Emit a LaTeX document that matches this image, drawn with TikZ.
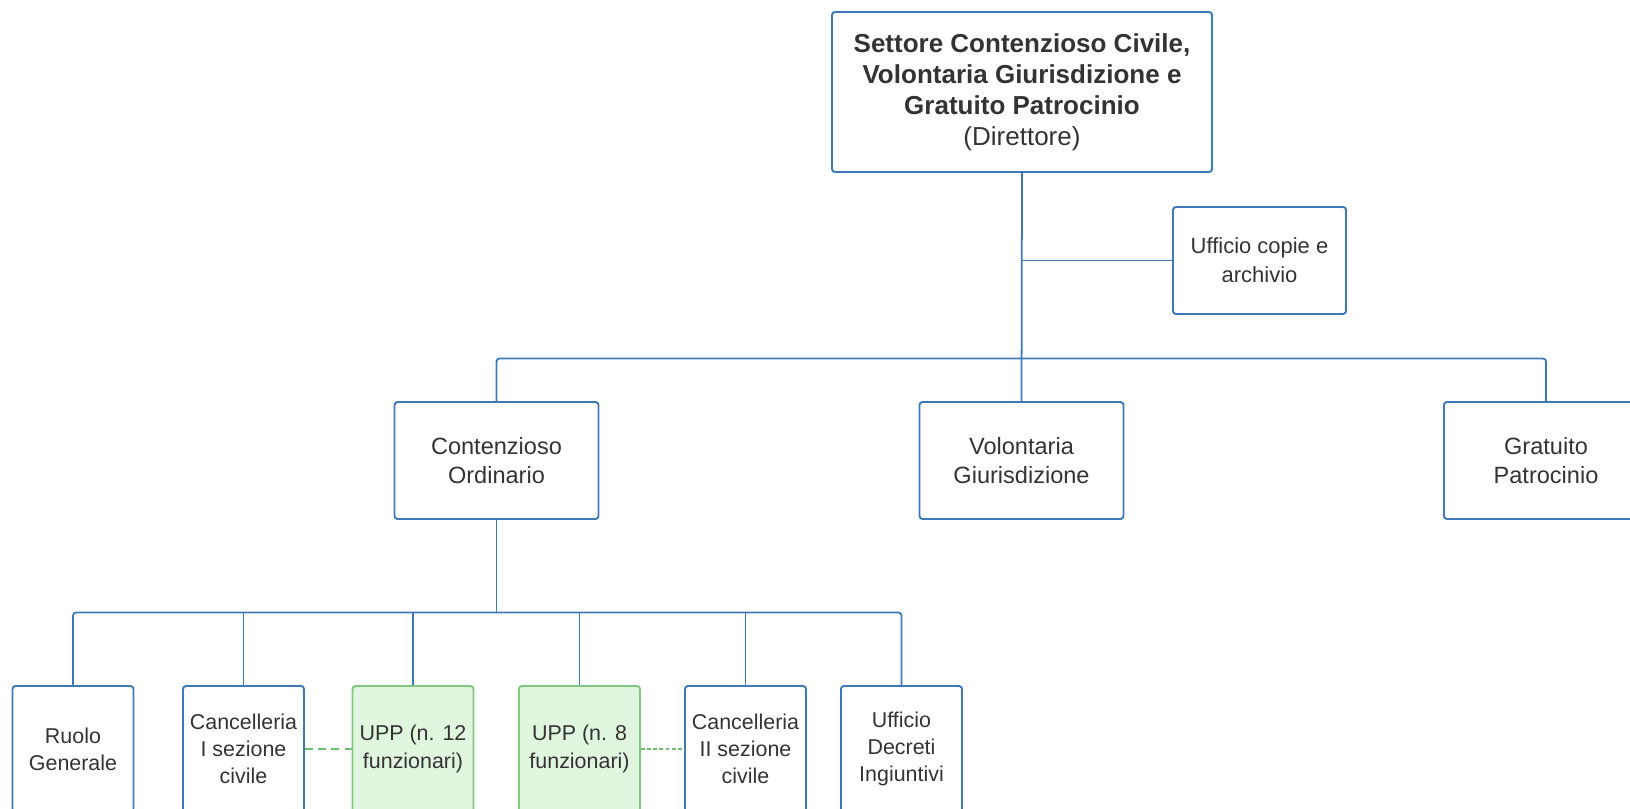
\documentclass[tikz,border=0pt]{standalone}
\usepackage{fontspec}
\setmainfont{Liberation Sans}
\definecolor{lineblue}{HTML}{3D79B8}
\definecolor{uppline}{HTML}{82C682}
\definecolor{uppfill}{HTML}{E1F6DE}
\definecolor{tiegreen}{HTML}{6DBE70}
\definecolor{txtgray}{HTML}{333333}

\begin{document}
\begin{tikzpicture}[unit/.style={rectangle, draw=lineblue, line width=1.1pt, rounded corners=0.06cm, text=txtgray, align=center, inner sep=0pt},
  head/.style={unit, minimum width=7.6cm, minimum height=3.2cm, font=\fontsize{14.8}{17.6}\selectfont},
  office/.style={unit, minimum width=4.08cm, minimum height=2.34cm, font=\fontsize{13.4}{16.2}\selectfont},
  side/.style={unit, minimum width=3.46cm, minimum height=2.14cm, font=\fontsize{12.5}{16.5}\selectfont},
  desk/.style={unit, minimum width=2.42cm, minimum height=2.52cm, font=\fontsize{12.2}{15.5}\selectfont},
  upp/.style={desk, draw=uppline, fill=uppfill},
  link/.style={lineblue, line width=1pt, rounded corners=0.06cm},
  tie/.style={tiegreen, line width=1.1pt, dash pattern=on 4.5pt off 3pt}]
\useasboundingbox (0,0) rectangle (32.6,-16.16);

\node[head] (dir) at (20.44,-1.84)
      {\textbf{Settore Contenzioso Civile,}\\ \textbf{Volontaria Giurisdizione e}\\
       \textbf{Gratuito Patrocinio}\\ (Direttore)};
\node[side] (copie) at (25.19,-5.21) {Ufficio copie e\\ archivio};

\node[office] (cont) at (9.93,-9.21) {Contenzioso\\ Ordinario};
\node[office] (vol) at (20.43,-9.21) {Volontaria\\ Giurisdizione};
\node[office] (grat) at (30.92,-9.21) {Gratuito\\ Patrocinio};

\node[desk] (ruolo) at (1.46,-14.98) {Ruolo\\ Generale};
\node[desk] (canc1) at (4.87,-14.98) {Cancelleria\\ I sezione\\ civile};
\node[upp] (upp12) at (8.26,-14.98) {UPP (n. 12\\ funzionari)};
\node[upp] (upp8) at (11.59,-14.98) {UPP (n. 8\\ funzionari)};
\node[desk] (canc2) at (14.91,-14.98) {Cancelleria\\ II sezione\\ civile};
\node[desk] (decreti) at (18.03,-14.98) {Ufficio\\ Decreti\\ Ingiuntivi};

\coordinate (bus1) at (0,-7.17);
\coordinate (bus2) at (0,-12.25);
\coordinate (arm) at (0,-5.21);

\draw[link] (dir.south) -- (vol.north);
\draw[link] (dir.south |- arm) -- (copie.west);
\draw[link] (cont.north) -- (cont.north |- bus1) -- (grat.north |- bus1) -- (grat.north);

\draw[link] (cont.south) -- (cont.south |- bus2);
\draw[link] (ruolo.north) -- (ruolo.north |- bus2) -- (decreti.north |- bus2) -- (decreti.north);
\foreach \n in {canc1,upp12,upp8,canc2}
  \draw[link] (\n.north |- bus2) -- (\n.north);

\draw[tie] (canc1.east) -- (upp12.west);
\draw[tie, line width=0.6pt, dash pattern=on 2.2pt off 1.3pt] (upp8.east) -- (canc2.west);

\end{tikzpicture}
\end{document}
